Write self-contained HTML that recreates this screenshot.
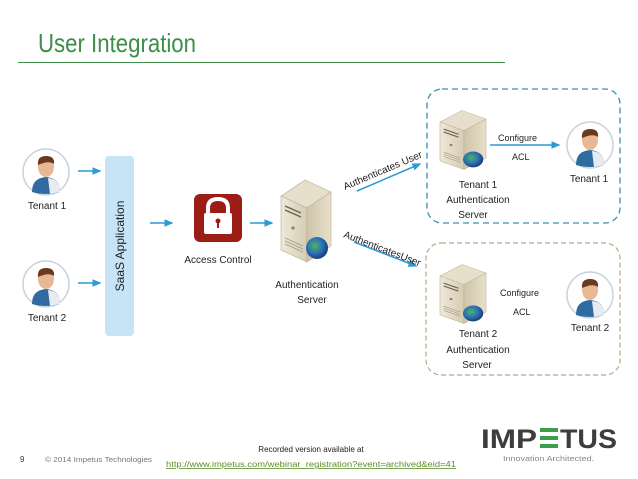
<!DOCTYPE html>
<html><head><meta charset="utf-8"><style>
html,body{margin:0;padding:0;background:#fff;}
svg{display:block;}
text{font-family:"Liberation Sans",sans-serif;}
</style></head><body>
<svg width="638" height="479" viewBox="0 0 638 479" xmlns="http://www.w3.org/2000/svg">
<defs>
<marker id="ar" markerWidth="6" markerHeight="6" refX="5" refY="3" orient="auto"><path d="M0,0.5 L6,3 L0,5.5 z" fill="#2a9ad8"/></marker>
<linearGradient id="sf" x1="0" x2="1"><stop offset="0" stop-color="#efe8d8"/><stop offset="1" stop-color="#d6ccb4"/></linearGradient>
<linearGradient id="ss" x1="0" x2="1"><stop offset="0" stop-color="#cfc4a8"/><stop offset="1" stop-color="#e8e0cc"/></linearGradient>
<radialGradient id="gl" cx="0.4" cy="0.4" r="0.6"><stop offset="0" stop-color="#4fb45a"/><stop offset="0.6" stop-color="#2a70b8"/><stop offset="1" stop-color="#1a3f7a"/></radialGradient>
<g id="srv">
<path d="M0,18 L24,2 L50,14 L26,30 z" fill="#e6dfcc" stroke="#b8ad90" stroke-width="0.6"/>
<path d="M0,18 L26,30 L26,84 L0,72 z" fill="url(#sf)" stroke="#b8ad90" stroke-width="0.6"/>
<path d="M26,30 L50,14 L50,68 L26,84 z" fill="url(#ss)" stroke="#b8ad90" stroke-width="0.6"/>
<path d="M4,28 L20,35 M4,32 L20,39" stroke="#6a6350" stroke-width="1.5"/>
<circle cx="12" cy="50" r="1.6" fill="#8a8270"/>
<path d="M4,60 L22,68 M4,63 L22,71 M4,66 L22,74" stroke="#a09880" stroke-width="0.8"/>
<circle cx="36" cy="70" r="11" fill="url(#gl)"/>
</g>
<g id="usr">
<circle cx="0" cy="0" r="23" fill="#fff" stroke="#c8d4dc" stroke-width="1.5"/>
<path d="M-14,20 Q-14,6 0,5 Q14,6 14,20 Q0,24 -14,20z" fill="#2f6aa0"/>
<path d="M2,6 Q14,7 14,20 L4,22z" fill="#e8ecf0"/>
<ellipse cx="0" cy="-5" rx="8" ry="10" fill="#e8b894"/>
<path d="M-8,-7 Q-9,-16 0,-16 Q9,-16 8,-8 Q3,-12 -8,-7z" fill="#6a3a1e"/>
</g>
</defs>

<text x="38" y="52" font-size="26" fill="#3e8e4a" textLength="158" lengthAdjust="spacingAndGlyphs">User Integration</text>
<line x1="18" y1="62.5" x2="505" y2="62.5" stroke="#3e8e4a" stroke-width="1"/>

<use href="#usr" x="46" y="172"/>
<text x="47" y="209" font-size="10" text-anchor="middle" fill="#222">Tenant 1</text>
<use href="#usr" x="46" y="284"/>
<text x="47" y="321" font-size="10" text-anchor="middle" fill="#222">Tenant 2</text>

<line x1="78" y1="171" x2="100" y2="171" stroke="#2a9ad8" stroke-width="1.5" marker-end="url(#ar)"/>
<line x1="78" y1="283" x2="100" y2="283" stroke="#2a9ad8" stroke-width="1.5" marker-end="url(#ar)"/>

<rect x="105" y="156" width="29" height="180" rx="4" fill="#c6e4f6"/>
<text transform="translate(124,246) rotate(-90)" font-size="12" text-anchor="middle" fill="#222">SaaS  Application</text>

<line x1="150" y1="223" x2="172" y2="223" stroke="#2a9ad8" stroke-width="1.5" marker-end="url(#ar)"/>

<rect x="194" y="194" width="48" height="48" rx="6" fill="#9c1c16"/>
<path d="M208,214 L208,208 Q208,199 218,199 Q228,199 228,208 L228,214" fill="none" stroke="#fff" stroke-width="4"/>
<rect x="204" y="213" width="28" height="21" rx="2" fill="#fff"/>
<circle cx="218" cy="221" r="2.5" fill="#9c1c16"/><rect x="217" y="222" width="2" height="6" fill="#9c1c16"/>
<text x="218" y="263" font-size="10" text-anchor="middle" fill="#222">Access Control</text>

<line x1="250" y1="223" x2="272" y2="223" stroke="#2a9ad8" stroke-width="1.5" marker-end="url(#ar)"/>

<use href="#srv" x="281" y="178"/>
<text x="307" y="288" font-size="10" text-anchor="middle" fill="#222">Authentication</text>
<text x="312" y="303" font-size="10" text-anchor="middle" fill="#222">Server</text>

<line x1="357" y1="191" x2="420" y2="164" stroke="#2a9ad8" stroke-width="1.5" marker-end="url(#ar)"/>
<text transform="translate(345,190) rotate(-23)" font-size="10" fill="#222">Authenticates User</text>
<line x1="354" y1="242" x2="416" y2="266" stroke="#2a9ad8" stroke-width="1.5" marker-end="url(#ar)"/>
<text transform="translate(343,237) rotate(21)" font-size="10" fill="#222">AuthenticatesUser</text>

<rect x="427" y="89" width="193" height="134" rx="15" fill="none" stroke="#3a8fb0" stroke-width="1.3" stroke-dasharray="6,4"/>
<rect x="426" y="243" width="194" height="132" rx="15" fill="none" stroke="#b8a88a" stroke-width="1.2" stroke-dasharray="5,3"/>

<use href="#srv" transform="translate(440,109) scale(0.92,0.72)"/>
<text x="478" y="188" font-size="10" text-anchor="middle" fill="#222">Tenant 1</text>
<text x="478" y="203" font-size="10" text-anchor="middle" fill="#222">Authentication</text>
<text x="473" y="218" font-size="10" text-anchor="middle" fill="#222">Server</text>
<text x="498" y="141" font-size="9" fill="#222">Configure</text>
<line x1="490" y1="145" x2="559" y2="145" stroke="#2a9ad8" stroke-width="1.5" marker-end="url(#ar)"/>
<text x="512" y="160" font-size="9" fill="#222">ACL</text>
<use href="#usr" x="590" y="145"/>
<text x="589" y="182" font-size="10" text-anchor="middle" fill="#222">Tenant 1</text>

<use href="#srv" transform="translate(440,263) scale(0.92,0.72)"/>
<text x="478" y="337" font-size="10" text-anchor="middle" fill="#222">Tenant 2</text>
<text x="478" y="353" font-size="10" text-anchor="middle" fill="#222">Authentication</text>
<text x="477" y="368" font-size="10" text-anchor="middle" fill="#222">Server</text>
<text x="500" y="296" font-size="9" fill="#222">Configure</text>
<text x="513" y="315" font-size="9" fill="#222">ACL</text>
<use href="#usr" x="590" y="295"/>
<text x="590" y="331" font-size="10" text-anchor="middle" fill="#222">Tenant 2</text>

<text x="20" y="462" font-size="8" fill="#333">9</text>
<text x="45" y="462" font-size="7.5" fill="#777" textLength="107" lengthAdjust="spacingAndGlyphs">© 2014 Impetus Technologies</text>
<text x="311" y="452" font-size="8" text-anchor="middle" fill="#222">Recorded version available at</text>
<text x="166" y="467" font-size="8" fill="#5a8e2a" text-decoration="underline" textLength="290" lengthAdjust="spacingAndGlyphs">http://www.impetus.com/webinar_registration?event=archived&amp;eid=41</text>

<text x="481" y="448" font-size="27" font-weight="bold" fill="#3d3d3d" textLength="56" lengthAdjust="spacingAndGlyphs">IMP</text>
<rect x="540" y="428" width="18" height="4" fill="#3a9e4a"/>
<rect x="540" y="436" width="18" height="4" fill="#3a9e4a"/>
<rect x="540" y="444" width="18" height="4" fill="#3a9e4a"/>
<text x="560" y="448" font-size="27" font-weight="bold" fill="#3d3d3d" textLength="57" lengthAdjust="spacingAndGlyphs">TUS</text>
<text x="503" y="461" font-size="7.5" fill="#888" textLength="91" lengthAdjust="spacingAndGlyphs">Innovation Architected.</text>
</svg>
</body></html>
